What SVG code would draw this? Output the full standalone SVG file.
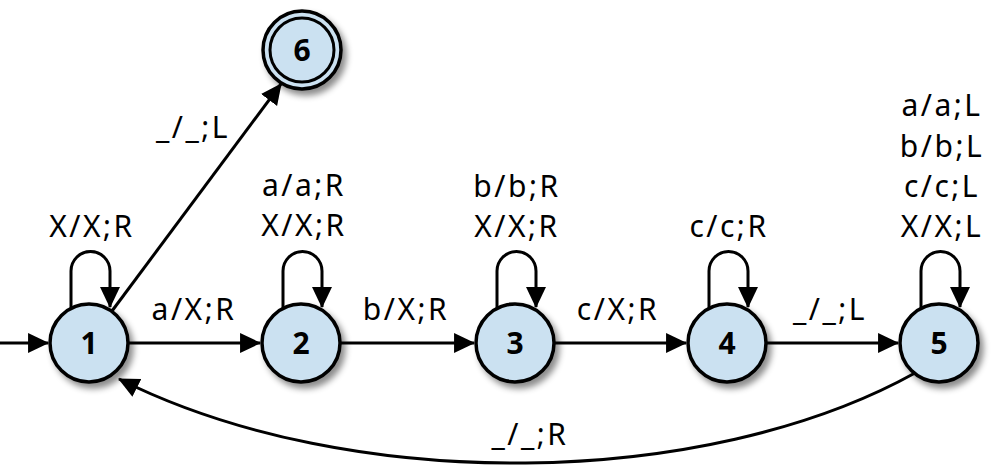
<svg xmlns="http://www.w3.org/2000/svg" width="1000" height="468" viewBox="0 0 1000 468">
<style>
.st{fill:#cbe1f1;stroke:#000;stroke-width:3.5;filter:url(#sh)}
.in{fill:none;stroke:#000;stroke-width:3}
.num{font-family:"Noto Sans",sans-serif;font-weight:bold;font-size:30px;text-anchor:middle}
.lb{font-family:"Noto Sans",sans-serif;font-size:30px;text-anchor:middle;letter-spacing:2.5px}
.e{fill:none;stroke:#000;stroke-width:3;marker-end:url(#ah)}
</style>
<defs>
<filter id="sh" x="-30%" y="-30%" width="170%" height="170%">
<feDropShadow dx="4" dy="5" stdDeviation="3" flood-color="#000" flood-opacity="0.45"/>
</filter>
<marker id="ah" viewBox="0 0 20 20" refX="19" refY="10" markerWidth="21" markerHeight="21" markerUnits="userSpaceOnUse" orient="auto">
<path d="M0,0.5 L20,10 L0,19.5 z" fill="#000"/>
</marker>
</defs>
<g id="connectors">
<path class="e" d="M0,343 H48"/>
<path class="e" d="M128,343 H260"/>
<path class="e" d="M340,343 H474"/>
<path class="e" d="M554,343 H686"/>
<path class="e" d="M766,343 H898"/>
<path class="e" d="M112,311 L281,84"/>
<path class="e" d="M915,373 C706,489 351,495 119,379"/>
<path class="e" d="M71,310 V271 A19.5,19.5 0 0 1 110,271 V307"/>
<path class="e" d="M283,310 V271 A19.5,19.5 0 0 1 322,271 V307"/>
<path class="e" d="M497,310 V271 A19.5,19.5 0 0 1 536,271 V307"/>
<path class="e" d="M709,310 V271 A19.5,19.5 0 0 1 748,271 V307"/>
<path class="e" d="M921,310 V271 A19.5,19.5 0 0 1 960,271 V307"/>
</g>
<g id="labels">
<text class="lb" x="92" y="237">X/X;R</text>
<text class="lb" x="194" y="320">a/X;R</text>
<text class="lb" x="406" y="320">b/X;R</text>
<text class="lb" x="618" y="320">c/X;R</text>
<text class="lb" x="830" y="320">_/_;L</text>
<text class="lb" x="193" y="138">_/_;L</text>
<text class="lb" x="530" y="445">_/_;R</text>
<text class="lb" x="304" y="196">a/a;R</text>
<text class="lb" x="304" y="236">X/X;R</text>
<text class="lb" x="517" y="197">b/b;R</text>
<text class="lb" x="517" y="237">X/X;R</text>
<text class="lb" x="729" y="237">c/c;R</text>
<text class="lb" x="942" y="116">a/a;L</text>
<text class="lb" x="942" y="157">b/b;L</text>
<text class="lb" x="942" y="197">c/c;L</text>
<text class="lb" x="942" y="237">X/X;L</text>
</g>
<g id="node1"><circle class="st" cx="89" cy="343" r="39"/><text class="num" x="89" y="354">1</text></g>
<g id="node2"><circle class="st" cx="301" cy="343" r="39"/><text class="num" x="301" y="354">2</text></g>
<g id="node3"><circle class="st" cx="515" cy="343" r="39"/><text class="num" x="515" y="354">3</text></g>
<g id="node4"><circle class="st" cx="727" cy="343" r="39"/><text class="num" x="727" y="354">4</text></g>
<g id="node5"><circle class="st" cx="939" cy="343" r="39"/><text class="num" x="939" y="354">5</text></g>
<g id="node6"><circle class="st" cx="302" cy="50" r="39"/><circle class="in" cx="302" cy="50" r="32"/><text class="num" x="302" y="61">6</text></g>
</svg>
